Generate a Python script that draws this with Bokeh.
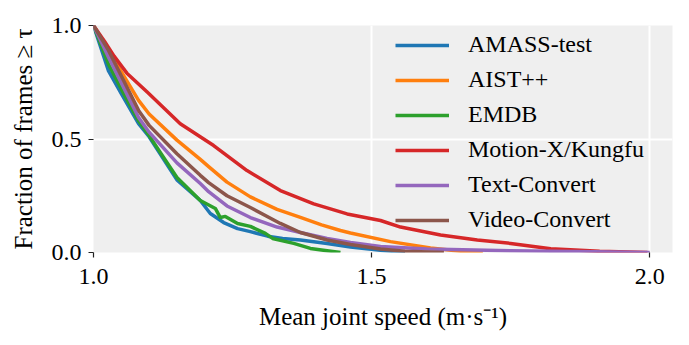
from bokeh.plotting import figure
from bokeh.models import Legend, LegendItem, FixedTicker, Range1d, PrintfTickFormatter
from bokeh.embed import file_html
from bokeh.resources import INLINE

# Survival curves: fraction of frames whose mean joint speed is >= tau
series_names = ["AMASS-test", "AIST++", "EMDB", "Motion-X/Kungfu", "Text-Convert", "Video-Convert"]
series_colors = ["#1f77b4", "#ff7f0e", "#2ca02c", "#d62728", "#9467bd", "#8c564b"]

amass_x = [1.0, 1.027, 1.05, 1.081, 1.10, 1.15, 1.192, 1.21, 1.234, 1.259, 1.282, 1.313, 1.34, 1.372, 1.42, 1.462, 1.516, 1.56]
amass_y = [1.0, 0.80, 0.70, 0.568, 0.51, 0.32, 0.229, 0.172, 0.132, 0.105, 0.092, 0.072, 0.062, 0.055, 0.04, 0.024, 0.01, 0.0]

aist_x = [1.0, 1.027, 1.081, 1.10, 1.15, 1.192, 1.207, 1.24, 1.282, 1.33, 1.372, 1.41, 1.444, 1.462, 1.534, 1.606, 1.66, 1.70]
aist_y = [1.0, 0.89, 0.67, 0.61, 0.495, 0.41, 0.378, 0.31, 0.245, 0.19, 0.155, 0.122, 0.097, 0.086, 0.048, 0.02, 0.006, 0.0]

emdb_x = [1.0, 1.027, 1.05, 1.081, 1.10, 1.15, 1.192, 1.219, 1.228, 1.237, 1.259, 1.282, 1.309, 1.322, 1.36, 1.39, 1.42, 1.444]
emdb_y = [1.0, 0.83, 0.72, 0.58, 0.515, 0.33, 0.229, 0.194, 0.154, 0.159, 0.128, 0.115, 0.084, 0.062, 0.04, 0.018, 0.008, 0.0]

kungfu_x = [1.0, 1.02, 1.037, 1.06, 1.097, 1.156, 1.216, 1.276, 1.336, 1.396, 1.456, 1.516, 1.552, 1.624, 1.69, 1.75, 1.822, 1.91, 1.996]
kungfu_y = [1.0, 0.93, 0.865, 0.79, 0.706, 0.567, 0.471, 0.361, 0.273, 0.214, 0.170, 0.141, 0.112, 0.077, 0.055, 0.04, 0.017, 0.005, 0.0]

text_x = [1.0, 1.027, 1.081, 1.10, 1.15, 1.192, 1.207, 1.24, 1.282, 1.33, 1.372, 1.42, 1.462, 1.516, 1.60, 1.75, 1.90, 2.0]
text_y = [1.0, 0.86, 0.595, 0.53, 0.395, 0.304, 0.268, 0.205, 0.154, 0.112, 0.088, 0.062, 0.044, 0.026, 0.015, 0.008, 0.003, 0.0]

video_x = [1.0, 1.027, 1.081, 1.10, 1.15, 1.192, 1.207, 1.24, 1.282, 1.336, 1.372, 1.42, 1.462, 1.516, 1.56, 1.63]
video_y = [1.0, 0.89, 0.626, 0.56, 0.435, 0.34, 0.308, 0.25, 0.198, 0.128, 0.088, 0.055, 0.035, 0.015, 0.006, 0.0]

x_ticks = [1.0, 1.5, 2.0]
y_ticks = [0.0, 0.5, 1.0]

series_x = [amass_x, aist_x, emdb_x, kungfu_x, text_x, video_x]
series_y = [amass_y, aist_y, emdb_y, kungfu_y, text_y, video_y]

FONT = "Liberation Serif"

p = figure(width=689, height=345, output_backend="svg", toolbar_location=None,
           x_range=Range1d(1.0, 2.041), y_range=Range1d(0.0, 1.0),
           min_border_left=93, min_border_right=17, min_border_top=25, min_border_bottom=93)

p.background_fill_color = "#efefef"
p.border_fill_color = "white"
p.outline_line_color = None

renderers = []
for xs, ys, c in zip(series_x, series_y, series_colors):
    r = p.line(xs, ys, line_color=c, line_width=3.5, line_join="round")
    renderers.append(r)

# grid
p.xgrid.ticker = FixedTicker(ticks=x_ticks)
p.ygrid.ticker = FixedTicker(ticks=y_ticks)
for g in (p.xgrid[0], p.ygrid[0]):
    g.grid_line_color = "white"
    g.grid_line_width = 2
p.grid.level = "underlay"

# axes
for ax, ticks in ((p.xaxis[0], x_ticks), (p.yaxis[0], y_ticks)):
    ax.ticker = FixedTicker(ticks=ticks)
    ax.formatter = PrintfTickFormatter(format="%.1f")
    ax.axis_line_color = None
    ax.major_tick_line_color = "#222222"
    ax.major_tick_line_width = 1.2
    ax.major_tick_out = 5
    ax.major_tick_in = 0
    ax.minor_tick_line_color = None
    ax.major_label_text_font = FONT
    ax.major_label_text_font_size = "24px"
    ax.major_label_text_color = "black"
    ax.axis_label_text_font = FONT
    ax.axis_label_text_font_size = "25px"
    ax.axis_label_text_font_style = "normal"
    ax.axis_label_text_color = "black"

p.xaxis[0].axis_label = "Mean joint speed (m\u00b7s\u207b\u00b9)"
p.yaxis[0].axis_label = "Fraction of frames \u2265 \u03c4"
p.xaxis[0].major_label_standoff = 11
p.yaxis[0].major_label_standoff = 7
p.xaxis[0].axis_label_standoff = 16
p.yaxis[0].axis_label_standoff = 12

legend = Legend(items=[LegendItem(label=n, renderers=[r]) for n, r in zip(series_names, renderers)],
                location=(302, 19), padding=0, margin=0, spacing=8,
                glyph_width=54, glyph_height=20, label_height=20, label_standoff=19,
                label_text_font=FONT, label_text_font_size="24px", label_text_color="black",
                background_fill_alpha=0, border_line_color=None)
p.add_layout(legend, "center")

open("out.html", "w").write(file_html(p, INLINE))
